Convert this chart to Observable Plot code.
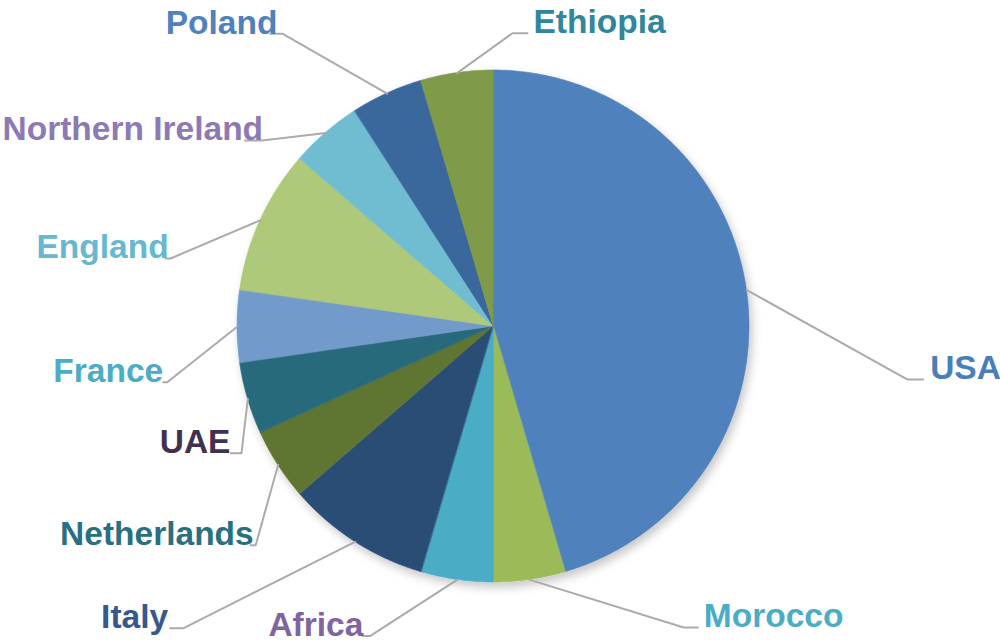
<!DOCTYPE html>
<html>
<head>
<meta charset="utf-8">
<script src="https://cdn.jsdelivr.net/npm/d3@7"></script>
<script src="https://cdn.jsdelivr.net/npm/@observablehq/plot@0.6"></script>
<style>
  html, body { margin: 0; padding: 0; background: #fff; }
</style>
</head>
<body>
<div id="chart"></div>
<script>
// ---- data ----
const countries = ["USA", "Morocco", "Africa", "Italy", "Netherlands", "UAE", "France", "England", "Northern Ireland", "Poland", "Ethiopia"];
const counts = [10, 1, 1, 2, 1, 1, 1, 2, 1, 1, 1];

// ---- styles ----
const sliceColors = ["#4F81BD", "#9BBB59", "#4BACC6", "#2C4D75", "#5F7530", "#276A7C", "#729ACA", "#AFC97A", "#6FBDD1", "#3A679C", "#7F9A48"];
const labelColors = ["#4A7EBB", "#4BACC6", "#8064A2", "#35598F", "#2A6F80", "#403152", "#4BACC6", "#66B8CE", "#8D7AB5", "#4F81BD", "#31859C"];

// ---- label layout ----
// elbow of leader line: angle in degrees clockwise from top, radius in pie radii
const labelAngle = [97.3, 147.7, 201.7, 225.8, 227.4, 243.3, 260.3, 281.9, 308.8, 324.2, 3.7];
const labelRadius = [1.629, 1.391, 1.301, 1.691, 1.262, 1.102, 1.293, 1.289, 1.160, 1.410, 1.148];
// horizontal tail length and text offset from the elbow, px
const tailLength = [16, 14, 8, 13, 5, 11, 4, 5, 17, 12, 15];
const textGap = [23, 20, 7, 15, 2, 11, 4, 2, -1, 5, 21];

// ---- geometry ----
const W = 1000, H = 643;
const R = 256;              // pie radius in px
const CX = 493, CY = 326;   // pie centre in px
const total = d3.sum(counts);
const rad = d => d * Math.PI / 180;
const px = a => Math.sin(rad(a));
const py = a => Math.cos(rad(a));

const slices = [];
let acc = 0;
countries.forEach((c, i) => {
  const a0 = acc / total * 360;
  acc += counts[i];
  const a1 = acc / total * 360;
  slices.push({country: c, a0, a1, mid: (a0 + a1) / 2, fill: sliceColors[i], label: labelColors[i],
               la: labelAngle[i], lr: labelRadius[i], tail: tailLength[i], gap: textGap[i]});
});

// wedge outlines: arc points (x1,y1) closed onto the centre (x2,y2)
const wedgePts = slices.flatMap(s => {
  const n = Math.max(2, Math.ceil((s.a1 - s.a0) / 0.5));
  return d3.range(n + 1).map(k => {
    const a = s.a0 + (s.a1 - s.a0) * k / n;
    return {country: s.country, fill: s.fill, x1: px(a), y1: py(a), x2: 0, y2: 0};
  });
});

// leader lines
const leaders = slices.flatMap(s => {
  const ex = s.lr * px(s.la), ey = s.lr * py(s.la);
  const sign = px(s.la) > 0 ? 1 : -1;
  return [
    {country: s.country, x: px(s.mid), y: py(s.mid)},
    {country: s.country, x: ex, y: ey},
    {country: s.country, x: ex + sign * s.tail / R, y: ey}
  ];
});

const labels = slices.map(s => {
  const ex = s.lr * px(s.la), ey = s.lr * py(s.la);
  const right = px(s.la) > 0;
  return {country: s.country, color: s.label, right, x: ex + (right ? 1 : -1) * s.gap / R, y: ey};
});

const font = "'Liberation Sans', Arial, Helvetica, sans-serif";

const plot = Plot.plot({
  width: W,
  height: H,
  margin: 0,
  style: {background: "#fff", overflow: "visible"},
  x: {domain: [-CX / R, (W - CX) / R], axis: null},
  y: {domain: [-(H - CY) / R, CY / R], axis: null},
  marks: [
    Plot.area(wedgePts, {x1: "x1", y1: "y1", x2: "x2", y2: "y2", z: "country", fill: "fill", stroke: "fill", strokeWidth: 0.6}),
    Plot.line(leaders, {x: "x", y: "y", z: "country", stroke: "#ABABAB", strokeWidth: 2}),
    Plot.text(labels.filter(d => d.right), {x: "x", y: "y", text: "country", fill: "color", textAnchor: "start", lineAnchor: "bottom", fontFamily: font, fontWeight: "bold", fontSize: 33.5}),
    Plot.text(labels.filter(d => !d.right), {x: "x", y: "y", text: "country", fill: "color", textAnchor: "end", lineAnchor: "bottom", fontFamily: font, fontWeight: "bold", fontSize: 33.5})
  ]
});

// soft drop shadow under the pie
const svg = d3.select(plot);
const defs = svg.insert("defs", ":first-child");
defs.append("filter").attr("id", "pieShadow").attr("x", "-20%").attr("y", "-20%").attr("width", "140%").attr("height", "140%")
  .append("feDropShadow").attr("dx", 3).attr("dy", 5).attr("stdDeviation", 5).attr("flood-color", "#000").attr("flood-opacity", 0.22);
svg.select('g[aria-label="area"]').attr("filter", "url(#pieShadow)");

document.getElementById("chart").appendChild(plot);
</script>
</body>
</html>
